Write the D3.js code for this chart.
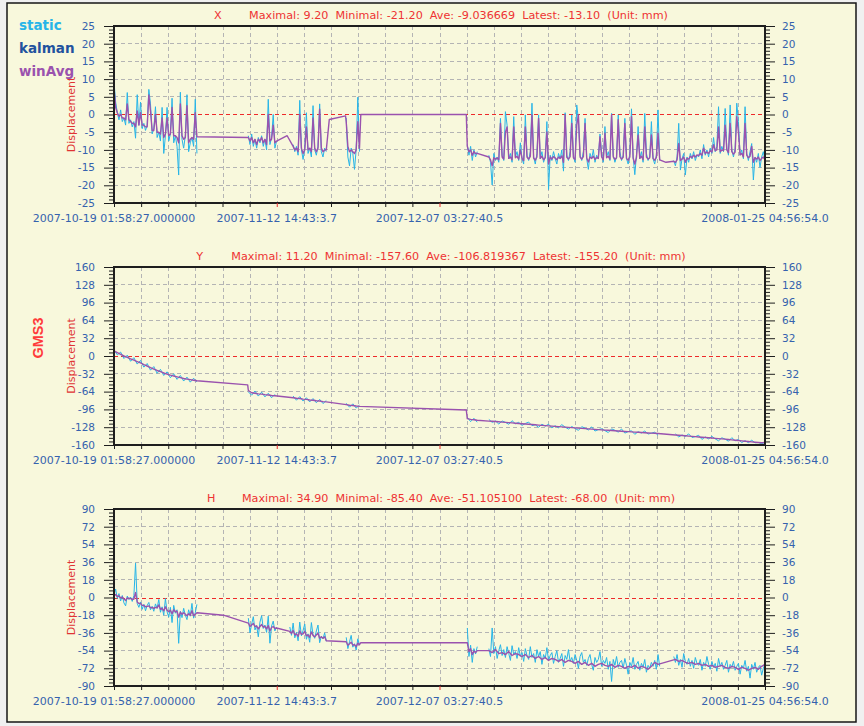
<!DOCTYPE html>
<html><head><meta charset="utf-8">
<script src="https://cdn.jsdelivr.net/npm/d3@7"></script>
<style>body{margin:0;background:#f0f0f0}svg{display:block}</style>
</head><body>
<svg id="c" width="864" height="726"></svg>
<script>
// ---------- data ----------
const startTime = [2007, 9, 19, 1, 58, 27];
const endTime = [2008, 0, 25, 4, 56, 54];
const xTickLabels = ["2007-10-19 01:58:27.000000", "2007-11-12 14:43:3.7", "2007-12-07 03:27:40.5", "2008-01-25 04:56:54.0"];
const xTickLabelIndex = [0, 6, 12, 24];
const legendNames = ["static", "kalman", "winAvg"];
const stationName = "GMS3";
const panelNames = ["X", "Y", "H"];
const statMax = [9.20, 11.20, 34.90];
const statMin = [-21.20, -157.60, -85.40];
const statAve = ["-9.036669", "-106.819367", "-51.105100"];
const statLatest = [-13.10, -155.20, -68.00];
const yRangeX = [-25, 25, 5];
const yRangeY = [-160, 160, 32];
const yRangeH = [-90, 90, 18];

// series: segments of {t0 (days from start), dt (days), v: values}
const staticX = [
 {t0:0, dt:0.25, v:[9.2,3.5,0.5,-1.5,1.3,-2.0,-1.0,-3.0,6.2,-2.5,-1.5,-3.5,-2.0,-6.7,5.6,-3.0,3.5,-4.0,-2.5,-4.5,-3.0,7.1,3.0,-5.5,-4.0,2.2,-6.5,-5.0,-7.5,2.0,-11.0,-6.0,2.0,-7.5,-5.5,4.6,-8.0,-6.0,-9.0,-17.1,6.3,-7.0,-9.5,-6.0,5.6,-10.5,-8.0,-6.5,-9.0,4.3,-11.0]},
 {t0:20.25, dt:0.25, v:[-6.0,-8.5,-5.5,-9.0,-7.0,-9.5,-6.5,-8.0,-6.0,-9.0,-7.0,-10.0,4.3,-8.5,-6.5,0.0,-9.5,-7.5]},
 {t0:27.0, dt:0.25, v:[-8.5,-10.5,-9.0,-11.5,4.0,-10.0,-12.7,-9.5,0.5,-11.0,-9.5,-12.0,2.5,-10.0,-11.5,-9.0,3.0,-10.5,-12.0,-9.5,-10.5]},
 {t0:35.0, dt:0.25, v:[-1.0,-12.0,-14.5,-9.5,-11.0,-15.5,-10.0,4.9,-10.5]},
 {t0:53.25, dt:0.25, v:[-8.5,-11.5,-9.0,-13.0,-10.0,-12.0,-10.5]},
 {t0:56.5, dt:0.25, v:[-11.5,-13.5,-19.9,-11.0,-13.0,-12.0,-13.5,-1.1,-11.5,-13.0,
  0.8,-3.0,-12.5,-11.0,-13.5,-0.6,-12.0,-10.5,-13.0,-8.0,
  -12.5,-14.0,-0.1,-11.5,-13.0,-10.5,3.2,-12.0,-14.0,-11.0,
  -0.1,-12.5,-10.5,-13.5,-12.0,-2.0,-21.2,-11.5,-13.0,-10.5,
  -12.5,-14.0,-11.0,-12.5,-10.0,-16.0,0.5,-11.5,-13.0,-10.5,
  -0.1,-12.0,-13.5,2.7,-1.5,-11.5,-13.0,-10.5,-1.1,-12.5,
  -15.5,-11.0,-12.5,-10.0,-13.5,-11.5,-12.5,-5.5,-11.0,-13.5,
  -3.4,-12.0,-10.5,-13.0,0.3,-11.5,-13.5,-12.0,-0.1,-10.5,
  -13.0,-11.5,-1.1,-12.5,-14.0,-11.0,1.6,-12.0,-17.0,-11.5,
  -3.4,-12.5,-10.5,-13.5,0.3,-11.0,-13.0,-12.0,-2.0,-12.5,
  -14.0,-11.5,1.3,-13.0]},
 {t0:84.37, dt:0.25, v:[-13.0,-14.5,-12.0,-2.5,-15.7,-12.5,-11.0,-17.1,-12.0,-13.5,
  -11.0,-12.5,-10.5,-13.0,-11.5,-12.0,-10.0,-12.5,-8.5,-11.5,
  -10.0,-12.0,-9.5,-11.0,-6.5,-10.5,-9.0,2.2,-11.0,-9.0,
  -10.5,1.7,-9.5,-11.5,2.7,-10.0,-12.0,-9.5,3.2,-2.0,
  -11.5,-10.0,-12.5,2.2,-11.0,-13.0,-10.5,-8.2,-18.5,-12.0,
  -13.5,-11.0,-15.0,-12.0,-10.5,-13.1]}
];
const winAvgX = [
 {t0:0, dt:0.25, v:[7.5,2.0,0.5,-0.5,0.0,-1.0,-1.0,-1.5,3.0,-1.5,-2.0,-2.5,-2.5,-3.5,1.0,-3.0,0.5,-3.0,-3.0,-3.5,-3.5,5.5,1.0,-4.5,-4.5,0.0,-5.0,-5.0,-5.5,-1.0,-6.5,-5.5,-1.0,-6.0,-5.5,2.0,-6.0,-6.0,-6.5,-8.0,3.0,-6.0,-7.0,-6.5,2.5,-8.0,-7.0,-6.5,-7.0,0.5,-6.3]},
 {t0:20.25, dt:0.25, v:[-6.5,-7.5,-6.5,-8.0,-7.0,-8.5,-7.0,-7.5,-6.5,-8.0,-7.0,-8.5,0.0,-7.5,-7.0,-3.0,-8.0,-7.5]},
 {t0:26.1, dt:0, v:[-6.0]},
 {t0:27.0, dt:0.25, v:[-9.0,-10.0,-9.5,-10.5,0.0,-9.5,-11.0,-10.0,-3.5,-10.0,-9.5,-10.5,-1.0,-9.5,-10.5,-9.5,1.5,-9.5,-10.5,-10.0,-10.0]},
 {t0:32.45, dt:2.45, v:[-1.4,-0.4]},
 {t0:35.0, dt:0.25, v:[-2.0,-9.0,-10.5,-10.0,-10.5,-11.0,-10.0,-2.0,-9.5]},
 {t0:37.2, dt:15.9, v:[0.0,0.0]},
 {t0:53.25, dt:0.25, v:[-9.0,-10.5,-10.0,-11.5,-10.5,-11.0,-11.0]},
 {t0:56.5, dt:0.25, v:[-12.0,-12.8,-14.5,-12.2,-12.6,-12.3,-12.8,-2.5,-12.0,-12.6,
  -5.0,-3.5,-12.4,-12.0,-12.8,-3.5,-12.2,-11.8,-12.6,-10.0,
  -12.4,-13.0,-3.5,-12.0,-12.6,-11.8,-0.1,-12.3,-12.9,-12.0,
  -1.1,-12.4,-11.8,-12.8,-12.2,-4.9,-14.0,-12.0,-12.6,-11.9,
  -12.3,-12.8,-12.0,-12.4,-11.7,-13.5,-0.1,-12.1,-12.6,-11.9,
  -2.5,-12.2,-12.7,-3.0,-0.1,-12.0,-12.6,-11.9,-2.5,-12.3,
  -13.4,-12.0,-12.4,-11.8,-12.7,-12.1,-12.4,-6.3,-12.0,-12.8,
  -5.3,-12.2,-11.8,-12.6,-0.1,-12.0,-12.7,-12.2,-1.5,-11.9,
  -12.6,-12.1,-2.5,-12.4,-12.9,-12.0,-0.6,-12.3,-14.0,-12.1,
  -5.8,-12.4,-11.8,-12.8,-3.5,-12.0,-12.6,-12.2,-5.8,-12.4,
  -12.9,-12.1,-5.3,-12.8]},
 {t0:83.2, dt:0, v:[-13.5]},
 {t0:84.37, dt:0.25, v:[-13.2,-13.5,-12.8,-8.2,-13.0,-12.6,-12.0,-13.5,-12.4,-12.6,
  -11.8,-12.2,-11.5,-12.0,-11.4,-11.6,-11.0,-11.5,-9.5,-11.0,
  -10.6,-11.0,-10.2,-10.6,-8.5,-10.2,-10.0,-3.5,-10.5,-10.0,
  -10.2,-3.0,-10.0,-10.8,-2.5,-10.5,-11.2,-10.6,-0.6,-5.0,
  -11.4,-11.0,-12.0,-2.5,-11.5,-12.2,-11.8,-9.0,-13.5,-12.2,
  -12.6,-12.0,-13.0,-12.4,-12.0,-12.8]}
];

const staticY = [
 {t0:0, dt:0.5, v:[11.2,2.0,7.0,-4.5,1.5,-9.5,-3.0,-14.5,-8.0,-20.0,-13.5,-25.5,-19.0,-31.0,-24.0,-35.0,-28.5,-39.0,-32.0,-42.0,-35.0,-45.0,-38.0,-47.0,-40.0,-46.5]},
 {t0:20.25, dt:0.5, v:[-64.5,-70.5,-63.0,-72.0,-65.0,-73.5,-67.0,-75.0,-69.0]},
 {t0:27.0, dt:0.5, v:[-72.0,-79.5,-73.0,-81.0,-75.0,-82.5,-76.5,-84.0,-78.0,-85.5,-80.0]},
 {t0:35.0, dt:0.5, v:[-85.0,-92.0,-86.0,-93.5,-88.5]},
 {t0:53.25, dt:0.5, v:[-110.0,-118.0,-112.0,-119.0]},
 {t0:56.5, dt:0.5, v:[-114.0,-119.3,-116.8,-122.3,-116.8,-119.3,-122.8,-116.3,-121.8,-119.3,
  -124.8,-121.3,-118.8,-125.2,-123.7,-128.2,-122.7,-126.1,-122.6,-129.0,
  -125.5,-129.0,-123.4,-127.9,-131.3,-126.8,-130.2,-133.7,-127.1,-129.6,
  -133.0,-127.5,-134.9,-132.4,-130.8,-134.2,-137.6,-131.0,-133.4,-136.8,
  -131.2,-138.6,-136.0,-134.4,-140.8,-136.2,-138.5,-134.9,-140.3,-138.7,
  -137.0,-142.4]},
 {t0:84.62, dt:0.5, v:[-140.0,-145.5,-142.0,-144.5,-140.0,-146.5,-145.0,-142.5,-150.0,-145.5,
  -149.0,-144.5,-149.0,-152.5,-147.0,-149.5,-153.2,-146.8,-152.4,-150.0,
  -155.6,-152.2,-155.8,-151.4,-156.0,-155.5,-157.6,-155.2]}
];
const winAvgY = [
 {t0:0, dt:0.5, v:[9.0,6.0,3.0,0.0,-2.5,-5.0,-7.5,-10.0,-12.5,-15.5,-18.0,-21.0,-23.5,-26.0,-28.0,-30.5,-32.5,-34.5,-36.0,-37.5,-39.0,-40.5,-41.5,-42.5,-43.5,-44.5]},
 {t0:20.15, dt:0, v:[-52.0]},
 {t0:20.25, dt:0.5, v:[-62.0,-66.0,-67.0,-68.0,-68.5,-69.5,-70.0,-71.0,-71.5]},
 {t0:27.0, dt:0.5, v:[-75.0,-76.0,-76.5,-77.5,-78.0,-79.0,-79.5,-80.5,-81.0,-82.0,-82.5]},
 {t0:35.0, dt:0.5, v:[-87.5,-88.5,-89.0,-90.0,-90.5]},
 {t0:53.1, dt:0, v:[-97.0]},
 {t0:53.25, dt:0.5, v:[-112.5,-114.0,-114.5,-115.5]},
 {t0:56.5, dt:0.5, v:[-117.0,-117.3,-117.8,-118.3,-118.8,-119.3,-119.8,-120.3,-120.8,-121.3,
  -121.8,-122.3,-122.8,-123.2,-123.7,-124.2,-124.7,-125.1,-125.6,-126.0,
  -126.5,-127.0,-127.4,-127.9,-128.3,-128.8,-129.2,-129.7,-130.1,-130.6,
  -131.0,-131.5,-131.9,-132.4,-132.8,-133.2,-133.6,-134.0,-134.4,-134.8,
  -135.2,-135.6,-136.0,-136.4,-136.8,-137.2,-137.5,-137.9,-138.3,-138.7,
  -139.0,-139.4]},
 {t0:84.62, dt:0.5, v:[-142.0,-142.5,-143.0,-143.5,-144.0,-144.5,-145.0,-145.5,-146.0,-146.5,
  -147.0,-147.5,-148.0,-148.5,-149.0,-149.5,-150.2,-150.8,-151.4,-152.0,
  -152.6,-153.2,-153.8,-154.4,-155.0,-155.5,-156.0,-155.5]}
];

const staticH = [
 {t0:0, dt:0.25, v:[3.0,8.5,-1.0,4.0,-3.5,2.0,-5.5,-8.5,1.5,-2.0,
  0.5,-4.0,2.0,34.9,-6.0,-10.0,-4.5,-12.0,-7.0,-13.5,
  -8.0,-5.0,-12.5,-9.0,-14.0,-6.5,-11.0,-2.0,-15.0,-9.5,
  -18.0,-1.0,-14.5,-20.0,-10.0,-25.5,-8.0,-16.0,-12.5,-46.6,
  -14.0,-20.5,-11.0,-18.0,-22.5,-12.5,-19.0,-6.0,-21.0,-15.5,-7.0]},
 {t0:20.25, dt:0.25, v:[-21.0,-36.0,-27.0,-19.5,-33.0,-28.5,-40.0,-25.0,-18.5,-31.5,-28.0,-35.5,-19.0,-46.5,-29.0,-24.0,-34.0,-30.0]},
 {t0:26.5, dt:0.25, v:[-30.0,-38.5,-26.0,-41.0,-35.5,-44.0,-25.0,-39.0,-33.5,-27.0,
  -42.5,-37.0,-45.5,-25.5,-38.0,-41.5,-34.0,-28.0,-46.0,-39.5,-42.0,-36.0,-44.5]},
 {t0:35.0, dt:0.25, v:[-40.5,-52.0,-45.0,-38.5,-50.5,-47.0,-53.5,-42.0,-48.0]},
 {t0:53.25, dt:0.25, v:[-31.0,-60.0,-48.5,-66.0,-52.0,-57.5,-50.0]},
 {t0:56.5, dt:0.25, v:[-52,-60,-31,-57,-50,-62,-54,-48,-59,-53,
  -61,-50,-57,-64,-49,-58,-55,-62,-51,-60,
  -56,-65,-52,-59,-63,-50,-61,-57,-66,-53,
  -60,-55,-68,-58,-62,-51,-64,-59,-56,-67,
  -60,-54,-66,-62,-57,-70,-59,-63,-53,-65,
  -61,-67,-58,-64,-72,-60,-56,-66,-63,-69,
  -62,-58,-68,-74,-61,-66,-63,-55,-70,-64,
  -67,-61,-73,-65,-85.4,-63,-69,-60,-71,-66,
  -64,-72,-62,-69,-78,-66,-70,-61,-73,-68,
  -65,-74,-67,-71,-63,-76,-69,-72,-66,-70,
  -64,-73,-58,-70]},
 {t0:84.37, dt:0.25, v:[-60,-66,-58,-69,-63,-71,-57,-65,-68,-62,
  -70,-64,-72,-61,-67,-69,-63,-74,-66,-70,
  -60,-68,-73,-65,-71,-67,-75,-62,-70,-66,
  -73,-69,-64,-76,-68,-71,-65,-74,-70,-67,
  -78,-69,-72,-64,-75,-70,-82,-68,-73,-66,
  -76,-71,-69,-79,-72,-68]}
];
const winAvgH = [
 {t0:0, dt:0.25, v:[2.0,3.0,1.0,1.5,-0.5,0.5,-1.5,-3.0,-0.5,-1.0,
  -1.0,-2.0,-1.5,5.0,-4.5,-6.0,-6.0,-8.0,-8.0,-9.5,
  -9.0,-8.5,-10.5,-10.0,-11.0,-10.0,-10.5,-7.5,-12.0,-11.0,
  -13.5,-9.5,-13.0,-14.5,-13.0,-16.5,-12.5,-14.5,-14.0,-20.0,
  -15.0,-17.0,-15.5,-17.0,-18.5,-16.5,-18.0,-13.5,-18.5,-17.0,-15.5]},
 {t0:16.5, dt:0, v:[-18.0]},
 {t0:20.25, dt:0.25, v:[-26.0,-29.5,-28.0,-26.5,-29.5,-29.0,-32.0,-29.5,-27.5,-30.0,-29.5,-32.0,-28.5,-34.0,-30.5,-29.5,-31.5,-31.0]},
 {t0:26.5, dt:0.25, v:[-34.5,-36.5,-33.5,-38.0,-37.0,-39.5,-34.0,-37.5,-37.0,-34.5,
  -39.0,-38.0,-40.5,-35.0,-38.5,-40.0,-38.0,-36.5,-41.5,-40.0,-41.5,-40.0,-44.0]},
 {t0:35.0, dt:0.25, v:[-45.0,-48.5,-47.0,-45.5,-48.5,-48.0,-50.0,-46.5,-48.0]},
 {t0:37.2, dt:15.9, v:[-46.0,-46.0]},
 {t0:53.25, dt:0.25, v:[-46.0,-55.0,-52.0,-58.0,-54.5,-56.0,-54.0]},
 {t0:56.5, dt:0.5, v:[-54,-56,-53,-57,-56,-58,-55,-59,-57,-58,
  -60,-58,-61,-59,-62,-60,-63,-61,-64,-62,
  -63,-65,-63,-66,-64,-65,-67,-65,-68,-66,
  -69,-67,-70,-68,-67,-69,-70,-68,-71,-69,
  -70,-72,-70,-71,-69,-72,-70,-71,-73,-70,
  -66,-68]},
 {t0:84.62, dt:0.5, v:[-63,-65,-64,-66,-67,-66,-68,-67,-69,-68,
  -70,-69,-71,-70,-69,-71,-72,-70,-71,-73,
  -71,-72,-74,-72,-71,-73,-70,-68]}
];

// ---------- drawing ----------
const W = 864, H = 726;
const C = {bg:"#f8f8dc", stat:"#27b5e8", kal:"#22529e", win:"#9a52ae", tick:"#3562ae", red:"#ee3333", grid:"#b4b4b4", frame:"#1e1e1e"};
const svg = d3.select("#c");
svg.append("rect").attr("x", 7).attr("y", 3).attr("width", 849).attr("height", 719)
  .attr("fill", C.bg).attr("stroke", "#161616").attr("stroke-width", 1.5);

const T0 = Date.UTC(...startTime), T1 = Date.UTC(...endTime), DAY = 864e5;
const L = 114, R = 765;
const x = d3.scaleUtc().domain([new Date(T0), new Date(T1)]).range([L, R]);
const gridTimes = d3.range(25).map(i => new Date(T0 + (T1 - T0) * i / 24));

function pts(seg) { return seg.v.map((v, i) => ({t: new Date(T0 + (seg.t0 + seg.dt * i) * DAY), v})); }

const FONT = "'DejaVu Sans', Verdana, sans-serif";

function drawPanel(k, top, bottom, range, stat, win) {
  const [mn, mx, step] = range;
  const y = d3.scaleLinear().domain([mn, mx]).range([bottom, top]);
  const major = d3.range(mn, mx + step / 2, step);
  const minor = d3.range(0, 51).map(i => mn + i * step / 5).filter((v, i) => i % 5 !== 0 && v <= mx);
  const g = svg.append("g");

  // grid
  g.selectAll(null).data(major.filter(v => v > mn && v < mx && v !== 0)).join("line")
    .attr("x1", L).attr("x2", R).attr("y1", d => Math.floor(y(d)) + 0.5).attr("y2", d => Math.floor(y(d)) + 0.5)
    .attr("stroke", C.grid).attr("stroke-dasharray", "4,3");
  g.selectAll(null).data(gridTimes.slice(1, -1)).join("line")
    .attr("x1", d => Math.round(x(d)) + 0.5).attr("x2", d => Math.round(x(d)) + 0.5).attr("y1", top).attr("y2", bottom)
    .attr("stroke", C.grid).attr("stroke-dasharray", "4,3");
  const zy = Math.round(y(0) / 2) * 2 + 0.5;
  g.append("line").attr("x1", L).attr("x2", R).attr("y1", zy).attr("y2", zy)
    .attr("stroke", "#ee2a2a").attr("stroke-width", 1).attr("stroke-dasharray", "4,3");

  // clip
  const cid = "clip" + k;
  svg.append("clipPath").attr("id", cid).append("rect").attr("x", L).attr("y", top).attr("width", R - L).attr("height", bottom - top);
  const line = d3.line().x(d => x(d.t)).y(d => y(d.v));
  const dg = g.append("g").attr("clip-path", `url(#${cid})`);
  dg.selectAll(null).data(stat.map(pts)).join("path")
    .attr("d", line).attr("fill", "none").attr("stroke", C.stat).attr("stroke-width", 1);
  dg.append("path").datum(win.flatMap(pts)).attr("d", line)
    .attr("fill", "none").attr("stroke", C.win).attr("stroke-width", 1.4).attr("stroke-linejoin", "round");

  // frame
  g.append("rect").attr("x", L).attr("y", top).attr("width", R - L).attr("height", bottom - top)
    .attr("fill", "none").attr("stroke", C.frame).attr("stroke-width", 2);

  // axes
  const styleAxis = sel => {
    sel.select(".domain").remove();
    sel.selectAll(".tick line").attr("stroke", C.frame);
    sel.selectAll("text").attr("fill", C.tick).style("font-family", FONT).style("font-size", "10.5px");
  };
  g.append("g").attr("transform", `translate(${L},0)`).call(d3.axisLeft(y).tickValues(minor).tickSize(5).tickFormat("")).call(styleAxis);
  g.append("g").attr("transform", `translate(${L},0)`).call(d3.axisLeft(y).tickValues(major).tickSize(10).tickPadding(9).tickFormat(d => String(d))).call(styleAxis);
  g.append("g").attr("transform", `translate(${R},0)`).call(d3.axisRight(y).tickValues(minor).tickSize(5).tickFormat("")).call(styleAxis);
  g.append("g").attr("transform", `translate(${R},0)`).call(d3.axisRight(y).tickValues(major).tickSize(10).tickPadding(7).tickFormat(d => String(d))).call(styleAxis);
  const bx = g.append("g").attr("transform", `translate(0,${bottom})`).call(d3.axisBottom(x).tickValues(gridTimes).tickSize(4).tickFormat("")).call(styleAxis);
  bx.selectAll(".tick line").attr("stroke", (d, i) => (i === 6 || i === 12) ? "#e83030" : C.frame);

  // date labels
  g.selectAll(null).data(xTickLabels).join("text")
    .attr("x", (d, i) => x(gridTimes[xTickLabelIndex[i]])).attr("y", bottom + 19)
    .attr("text-anchor", "middle").attr("fill", C.tick)
    .style("font-family", FONT).style("font-size", "11px").text(d => d);

  // Displacement label
  g.append("text").attr("transform", `translate(75,${(top + bottom) / 2}) rotate(-90)`)
    .attr("text-anchor", "middle").attr("fill", "#e03333")
    .style("font-family", FONT).style("font-size", "11px").text("Displacement");

  // title
  const tg = g.append("g");
  tg.append("text").attr("x", 0).attr("y", 0).attr("fill", C.red)
    .style("font-family", FONT).style("font-size", "11.2px").text(panelNames[k]);
  const st = tg.append("text").attr("x", 35).attr("y", 0).attr("fill", C.red)
    .style("font-family", FONT).style("font-size", "11.2px").style("white-space", "pre")
    .text(`Maximal: ${statMax[k].toFixed(2)}  Minimal: ${statMin[k].toFixed(2)}  Ave: ${statAve[k]}  Latest: ${statLatest[k].toFixed(2)}  (Unit: mm)`);
  const w = 35 + st.node().getComputedTextLength();
  tg.attr("transform", `translate(${441 - w / 2},${top - 7})`);
}

drawPanel(0, 26, 203, yRangeX, staticX, winAvgX);
drawPanel(1, 267, 445, yRangeY, staticY, winAvgY);
drawPanel(2, 509, 686, yRangeH, staticH, winAvgH);

// legend
const legColors = [C.stat, C.kal, C.win];
svg.selectAll(null).data(legendNames).join("text")
  .attr("x", 19).attr("y", (d, i) => 30 + i * 23)
  .attr("fill", (d, i) => legColors[i])
  .style("font-family", FONT).style("font-size", "13.5px").style("font-weight", "bold")
  .text(d => d);

// station name
svg.append("text").attr("transform", "translate(43,338) rotate(-90)")
  .attr("text-anchor", "middle").attr("fill", "#ff3b3b")
  .style("font-family", "'Liberation Sans', Arial, sans-serif").style("font-size", "14.5px").style("font-weight", "bold")
  .text(stationName);
</script>
</body></html>
